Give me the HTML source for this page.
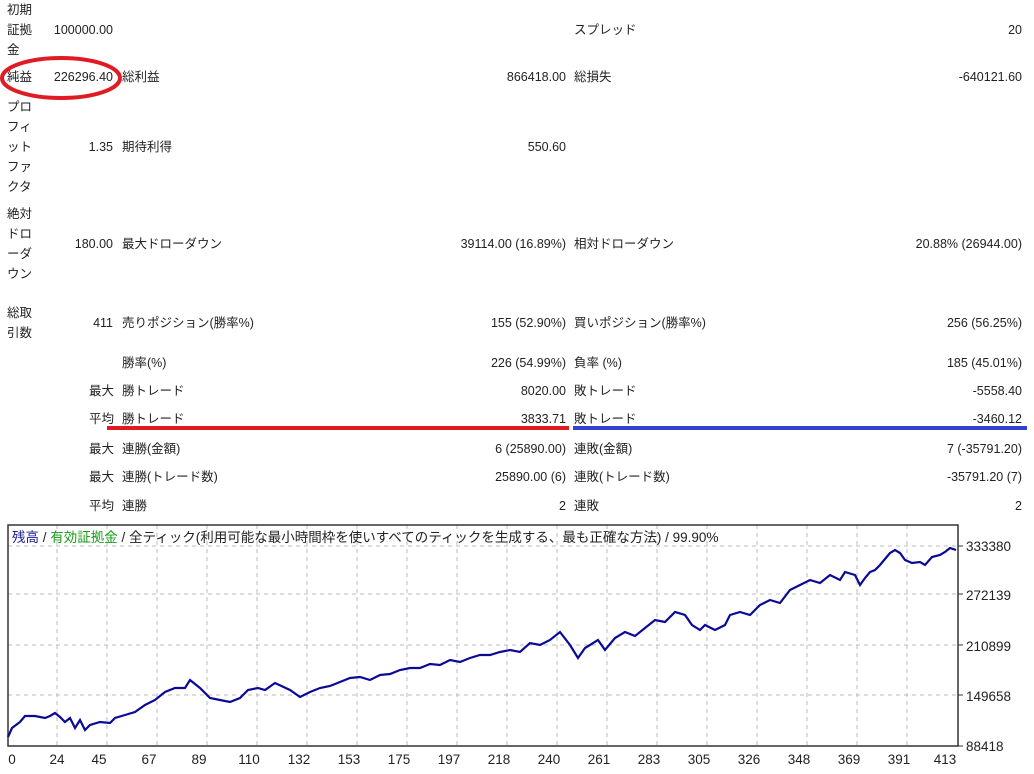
<!DOCTYPE html>
<html><head><meta charset="utf-8"><style>
body{margin:0;width:1034px;height:774px;background:#fff;position:relative;overflow:hidden;font-family:"Liberation Sans","Noto Sans CJK JP",sans-serif;font-size:12.5px;color:#222}
.t{position:absolute;white-space:nowrap;line-height:20px}
.r{text-align:right}
</style></head><body>
<div class="t" style="left:7px;top:0px">初期<br>証拠<br>金</div>
<div class="t r" style="right:921px;top:20px">100000.00</div>
<div class="t" style="left:574px;top:20px">スプレッド</div>
<div class="t r" style="right:12px;top:20px">20</div>

<div class="t" style="left:7px;top:67px">純益</div>
<div class="t r" style="right:921px;top:67px">226296.40</div>
<div class="t" style="left:122px;top:67px">総利益</div>
<div class="t r" style="right:468px;top:67px">866418.00</div>
<div class="t" style="left:574px;top:67px">総損失</div>
<div class="t r" style="right:12px;top:67px">-640121.60</div>

<div class="t" style="left:7px;top:97px">プロ<br>フィ<br>ット<br>ファ<br>クタ</div>
<div class="t r" style="right:921px;top:137px">1.35</div>
<div class="t" style="left:122px;top:137px">期待利得</div>
<div class="t r" style="right:468px;top:137px">550.60</div>

<div class="t" style="left:7px;top:204px">絶対<br>ドロ<br>ーダ<br>ウン</div>
<div class="t r" style="right:921px;top:234px">180.00</div>
<div class="t" style="left:122px;top:234px">最大ドローダウン</div>
<div class="t r" style="right:468px;top:234px">39114.00 (16.89%)</div>
<div class="t" style="left:574px;top:234px">相対ドローダウン</div>
<div class="t r" style="right:12px;top:234px">20.88% (26944.00)</div>

<div class="t" style="left:7px;top:303px">総取<br>引数</div>
<div class="t r" style="right:921px;top:313px">411</div>
<div class="t" style="left:122px;top:313px">売りポジション(勝率%)</div>
<div class="t r" style="right:468px;top:313px">155 (52.90%)</div>
<div class="t" style="left:574px;top:313px">買いポジション(勝率%)</div>
<div class="t r" style="right:12px;top:313px">256 (56.25%)</div>

<div class="t" style="left:122px;top:353px">勝率(%)</div>
<div class="t r" style="right:468px;top:353px">226 (54.99%)</div>
<div class="t" style="left:574px;top:353px">負率 (%)</div>
<div class="t r" style="right:12px;top:353px">185 (45.01%)</div>

<div class="t" style="left:89px;top:381px">最大</div>
<div class="t" style="left:122px;top:381px">勝トレード</div>
<div class="t r" style="right:468px;top:381px">8020.00</div>
<div class="t" style="left:574px;top:381px">敗トレード</div>
<div class="t r" style="right:12px;top:381px">-5558.40</div>

<div class="t" style="left:89px;top:409px">平均</div>
<div class="t" style="left:122px;top:409px">勝トレード</div>
<div class="t r" style="right:468px;top:409px">3833.71</div>
<div class="t" style="left:574px;top:409px">敗トレード</div>
<div class="t r" style="right:12px;top:409px">-3460.12</div>

<div class="t" style="left:89px;top:439px">最大</div>
<div class="t" style="left:122px;top:439px">連勝(金額)</div>
<div class="t r" style="right:468px;top:439px">6 (25890.00)</div>
<div class="t" style="left:574px;top:439px">連敗(金額)</div>
<div class="t r" style="right:12px;top:439px">7 (-35791.20)</div>

<div class="t" style="left:89px;top:467px">最大</div>
<div class="t" style="left:122px;top:467px">連勝(トレード数)</div>
<div class="t r" style="right:468px;top:467px">25890.00 (6)</div>
<div class="t" style="left:574px;top:467px">連敗(トレード数)</div>
<div class="t r" style="right:12px;top:467px">-35791.20 (7)</div>

<div class="t" style="left:89px;top:496px">平均</div>
<div class="t" style="left:122px;top:496px">連勝</div>
<div class="t r" style="right:468px;top:496px">2</div>
<div class="t" style="left:574px;top:496px">連敗</div>
<div class="t r" style="right:12px;top:496px">2</div>

<svg style="position:absolute;left:0;top:0" width="1034" height="774">
<ellipse cx="61" cy="78" rx="59" ry="20" fill="none" stroke="#e01b24" stroke-width="4"/>
<line x1="107" y1="428" x2="569" y2="428" stroke="#e01b24" stroke-width="4"/>
<line x1="573" y1="428" x2="1027" y2="428" stroke="#3344cc" stroke-width="4"/>
<g stroke="#bbb" stroke-dasharray="4,4" stroke-width="1">
<line x1="8" y1="546" x2="958" y2="546"/><line x1="8" y1="594" x2="958" y2="594"/>
<line x1="8" y1="645" x2="958" y2="645"/><line x1="8" y1="695" x2="958" y2="695"/>
<line x1="57" y1="525" x2="57" y2="746"/><line x1="107" y1="525" x2="107" y2="746"/>
<line x1="157" y1="525" x2="157" y2="746"/><line x1="207" y1="525" x2="207" y2="746"/>
<line x1="257" y1="525" x2="257" y2="746"/><line x1="307" y1="525" x2="307" y2="746"/>
<line x1="357" y1="525" x2="357" y2="746"/><line x1="407" y1="525" x2="407" y2="746"/>
<line x1="457" y1="525" x2="457" y2="746"/><line x1="507" y1="525" x2="507" y2="746"/>
<line x1="557" y1="525" x2="557" y2="746"/><line x1="607" y1="525" x2="607" y2="746"/>
<line x1="657" y1="525" x2="657" y2="746"/><line x1="707" y1="525" x2="707" y2="746"/>
<line x1="757" y1="525" x2="757" y2="746"/><line x1="807" y1="525" x2="807" y2="746"/>
<line x1="857" y1="525" x2="857" y2="746"/><line x1="907" y1="525" x2="907" y2="746"/>
</g>
<rect x="8" y="525" width="950" height="221" fill="none" stroke="#333" stroke-width="1.5"/>
<g stroke="#333"><line x1="958" y1="546" x2="963" y2="546"/><line x1="958" y1="594" x2="963" y2="594"/><line x1="958" y1="645" x2="963" y2="645"/><line x1="958" y1="695" x2="963" y2="695"/><line x1="958" y1="746" x2="963" y2="746"/></g>
<polyline fill="none" stroke="#0a0a96" stroke-width="2.2" points="8,737 12,728 20,722 25,716 35,716 45,718 50,716 55,713 60,717 65,722 70,718 75,728 80,720 85,730 90,725 100,722 110,723 115,718 125,715 135,712 145,705 155,700 165,692 175,688 185,688 190,680 200,688 210,698 220,700 230,702 240,698 248,690 258,688 265,690 275,683 290,690 300,697 310,692 320,688 330,686 340,682 350,678 360,677 370,680 380,675 390,674 400,670 410,668 420,668 430,664 440,665 450,660 460,662 470,658 480,655 490,655 500,652 510,650 520,652 530,643 540,645 550,640 560,632 570,645 578,658 585,648 590,645 598,640 605,650 615,638 625,632 635,636 645,628 655,620 665,622 675,612 685,615 692,625 700,630 705,625 715,630 725,625 730,615 740,612 750,615 760,605 770,600 780,603 790,590 800,585 810,580 820,583 830,575 840,580 845,572 855,575 860,585 865,578 870,572 875,570 880,565 890,553 895,550 900,553 905,560 912,563 920,562 925,565 932,557 940,555 945,552 950,548 956,550"/>
<g font-family="Liberation Sans, sans-serif" font-size="13.5" fill="#222">
<text x="966" y="551">333380</text><text x="966" y="600">272139</text><text x="966" y="651">210899</text><text x="966" y="701">149658</text><text x="966" y="751">88418</text>
<g text-anchor="middle">
<text x="12" y="764">0</text><text x="57" y="764">24</text><text x="99" y="764">45</text><text x="149" y="764">67</text><text x="199" y="764">89</text><text x="249" y="764">110</text><text x="299" y="764">132</text><text x="349" y="764">153</text><text x="399" y="764">175</text><text x="449" y="764">197</text><text x="499" y="764">218</text><text x="549" y="764">240</text><text x="599" y="764">261</text><text x="649" y="764">283</text><text x="699" y="764">305</text><text x="749" y="764">326</text><text x="799" y="764">348</text><text x="849" y="764">369</text><text x="899" y="764">391</text><text x="945" y="764">413</text>
</g></g>
</svg>
<div class="t" style="left:12px;top:528px;font-size:13.5px"><span style="color:#1a1a9a">残高</span> / <span style="color:#1a9a1a">有効証拠金</span> / 全ティック(利用可能な最小時間枠を使いすべてのティックを生成する、最も正確な方法) / 99.90%</div>
</body></html>
